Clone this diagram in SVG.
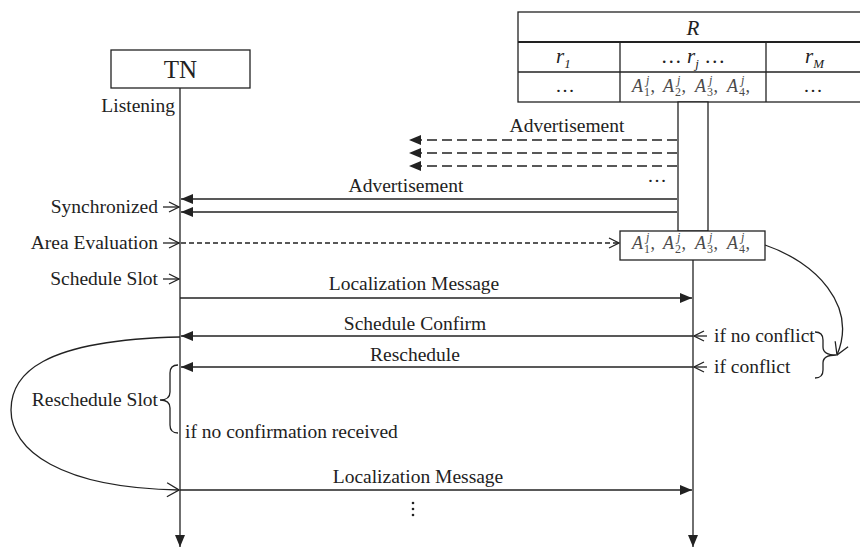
<svg xmlns="http://www.w3.org/2000/svg" width="860" height="548" viewBox="0 0 860 548">
  <style>
    .ln { stroke: #222; stroke-width: 1.3; fill: none; }
    .box { stroke: #222; stroke-width: 1.3; fill: #fff; }
    .dash { stroke-dasharray: 10 5; }
    .dash2 { stroke-dasharray: 5 3; }
    .t { font-family: "Liberation Serif", "Times New Roman", serif; font-size: 19.5px; fill: #222; }
    .it { font-style: italic; }
    .a { font-family: "Liberation Serif", "Times New Roman", serif; font-size: 18px; fill: #4a4a4a; }
    .s { font-size: 12px; }
    .mid { text-anchor: middle; }
    .end { text-anchor: end; }
  </style>
  <defs>
    <marker id="fill" viewBox="0 0 12 10" refX="12" refY="5" markerWidth="12" markerHeight="10" markerUnits="userSpaceOnUse" orient="auto">
      <path d="M0,0 L12,5 L0,10 z" fill="#222"/>
    </marker>
    <marker id="open" viewBox="0 0 14 16" refX="13" refY="8" markerWidth="14" markerHeight="16" markerUnits="userSpaceOnUse" orient="auto">
      <path d="M1,1 L13,8 L1,15" fill="none" stroke="#222" stroke-width="1.3"/>
    </marker>
    <marker id="tick" viewBox="0 0 12 12" refX="11" refY="6" markerWidth="12" markerHeight="12" markerUnits="userSpaceOnUse" orient="auto">
      <path d="M1,1 L11,6 L1,11" fill="none" stroke="#222" stroke-width="1.3"/>
    </marker>
  </defs>

  <rect width="860" height="548" fill="#fff"/>

  <!-- TN node -->
  <g id="node-TN">
    <rect class="box" x="111" y="50" width="139" height="38"/>
    <text class="t mid" x="180.5" y="78" style="font-size:25px">TN</text>
  </g>

  <!-- R table with its activation bar -->
  <g id="node-R">
    <rect class="box" x="518" y="12" width="360" height="90"/>
    <line class="ln" x1="518" y1="42" x2="878" y2="42" style="stroke-width:2"/>
    <line class="ln" x1="518" y1="72" x2="878" y2="72"/>
    <line class="ln" x1="620" y1="42" x2="620" y2="102"/>
    <line class="ln" x1="766" y1="42" x2="766" y2="102"/>
    <text class="t it mid" x="693" y="35" style="font-size:21px">R</text>
    <text class="t" x="556" y="63" style="font-size:21px"><tspan class="it">r</tspan><tspan class="it" style="font-size:13px" dy="5">1</tspan></text>
    <text class="t mid" x="693" y="63" style="font-size:21px">… <tspan class="it">r</tspan><tspan class="it" style="font-size:13px" dy="5">j</tspan><tspan dy="-5"> …</tspan></text>
    <text class="t" x="805" y="63" style="font-size:21px"><tspan class="it">r</tspan><tspan class="it" style="font-size:13px" dy="5">M</tspan></text>
    <text class="t mid" x="565" y="92">…</text>
    <text class="t mid" x="813" y="92">…</text>
    <text class="a">
      <tspan class="it" x="632" y="92">A</tspan><tspan class="s" x="644" y="96">1</tspan><tspan class="s it" x="646" y="84">j</tspan><tspan x="650.5" y="92">,</tspan>
      <tspan class="it" x="663" y="92">A</tspan><tspan class="s" x="675" y="96">2</tspan><tspan class="s it" x="677" y="84">j</tspan><tspan x="681.5" y="92">,</tspan>
      <tspan class="it" x="695" y="92">A</tspan><tspan class="s" x="707" y="96">3</tspan><tspan class="s it" x="709" y="84">j</tspan><tspan x="713.5" y="92">,</tspan>
      <tspan class="it" x="727" y="92">A</tspan><tspan class="s" x="739" y="96">4</tspan><tspan class="s it" x="741" y="84">j</tspan><tspan x="745.5" y="92">,</tspan>
    </text>
    <rect class="box" x="678" y="102" width="30" height="129"/>
  </g>

  <!-- area evaluation box on the R lifeline -->
  <g id="node-A">
    <rect class="box" x="620" y="231" width="145" height="29"/>
    <text class="a">
      <tspan class="it" x="632" y="249">A</tspan><tspan class="s" x="644" y="253">1</tspan><tspan class="s it" x="646" y="241">j</tspan><tspan x="650.5" y="249">,</tspan>
      <tspan class="it" x="663" y="249">A</tspan><tspan class="s" x="675" y="253">2</tspan><tspan class="s it" x="677" y="241">j</tspan><tspan x="681.5" y="249">,</tspan>
      <tspan class="it" x="695" y="249">A</tspan><tspan class="s" x="707" y="253">3</tspan><tspan class="s it" x="709" y="241">j</tspan><tspan x="713.5" y="249">,</tspan>
      <tspan class="it" x="727" y="249">A</tspan><tspan class="s" x="739" y="253">4</tspan><tspan class="s it" x="741" y="241">j</tspan><tspan x="745.5" y="249">,</tspan>
    </text>
  </g>

  <!-- connectors -->
  <g id="connectors">
    <line class="ln" x1="180" y1="88" x2="180" y2="547" marker-end="url(#fill)"/>
    <line class="ln" x1="693" y1="260" x2="693" y2="547" marker-end="url(#fill)"/>

    <line class="ln dash" x1="677" y1="140" x2="409" y2="140" marker-end="url(#fill)"/>
    <line class="ln dash" x1="677" y1="153" x2="409" y2="153" marker-end="url(#fill)"/>
    <line class="ln dash" x1="677" y1="166" x2="409" y2="166" marker-end="url(#fill)"/>

    <line class="ln" x1="677" y1="199" x2="181" y2="199" marker-end="url(#fill)"/>
    <line class="ln" x1="677" y1="212" x2="181" y2="212" marker-end="url(#fill)"/>

    <line class="ln dash2" x1="181" y1="243" x2="619" y2="243" marker-end="url(#tick)"/>

    <line class="ln" x1="180" y1="298" x2="692" y2="298" marker-end="url(#fill)"/>
    <line class="ln" x1="693" y1="336" x2="181" y2="336" marker-end="url(#fill)"/>
    <line class="ln" x1="693" y1="367" x2="181" y2="367" marker-end="url(#fill)"/>
    <line class="ln" x1="180" y1="490" x2="692" y2="490" marker-end="url(#fill)"/>

    <!-- state pointers onto the lifelines -->
    <line class="ln" x1="163" y1="207" x2="179" y2="207" marker-end="url(#tick)"/>
    <line class="ln" x1="163" y1="243" x2="179" y2="243" marker-end="url(#tick)"/>
    <line class="ln" x1="163" y1="279" x2="179" y2="279" marker-end="url(#tick)"/>
    <line class="ln" x1="707" y1="336" x2="694" y2="336" marker-end="url(#tick)"/>
    <line class="ln" x1="707" y1="367" x2="694" y2="367" marker-end="url(#tick)"/>

    <!-- retry loop and decision curve -->
    <path class="ln" d="M180,337 C40,340 11,375 11,410 C11,450 60,488 179,490" marker-end="url(#open)"/>
    <path class="ln" d="M765,245 C815,262 858,305 837,355" marker-end="url(#open)"/>

    <!-- braces -->
    <path class="ln" d="M815,332 Q823,332 823,340 L823,347 Q823,355 836,355 Q823,355 823,363 L823,370 Q823,378 815,378"/>
    <path class="ln" d="M178,365 Q170,365 170,373 L170,392 Q170,400 160,400 Q170,400 170,408 L170,425 Q170,433 178,433"/>
  </g>

  <!-- labels -->
  <g id="labels">
    <text class="t end" x="175" y="112">Listening</text>
    <text class="t mid" x="567" y="132">Advertisement</text>
    <text class="t mid" x="657" y="182">…</text>
    <text class="t mid" x="406" y="192">Advertisement</text>
    <text class="t end" x="158" y="213">Synchronized</text>
    <text class="t end" x="158" y="249">Area Evaluation</text>
    <text class="t end" x="158" y="285">Schedule Slot</text>
    <text class="t mid" x="414" y="290">Localization Message</text>
    <text class="t mid" x="415" y="330">Schedule Confirm</text>
    <text class="t mid" x="415" y="361">Reschedule</text>
    <text class="t" x="714" y="342">if no conflict</text>
    <text class="t" x="714" y="373">if conflict</text>
    <text class="t end" x="158" y="406">Reschedule Slot</text>
    <text class="t" x="185" y="438">if no confirmation received</text>
    <text class="t mid" x="418" y="483">Localization Message</text>
    <g fill="#222">
      <circle cx="413" cy="503" r="1.3"/>
      <circle cx="413" cy="509" r="1.3"/>
      <circle cx="413" cy="515" r="1.3"/>
    </g>
  </g>
</svg>
